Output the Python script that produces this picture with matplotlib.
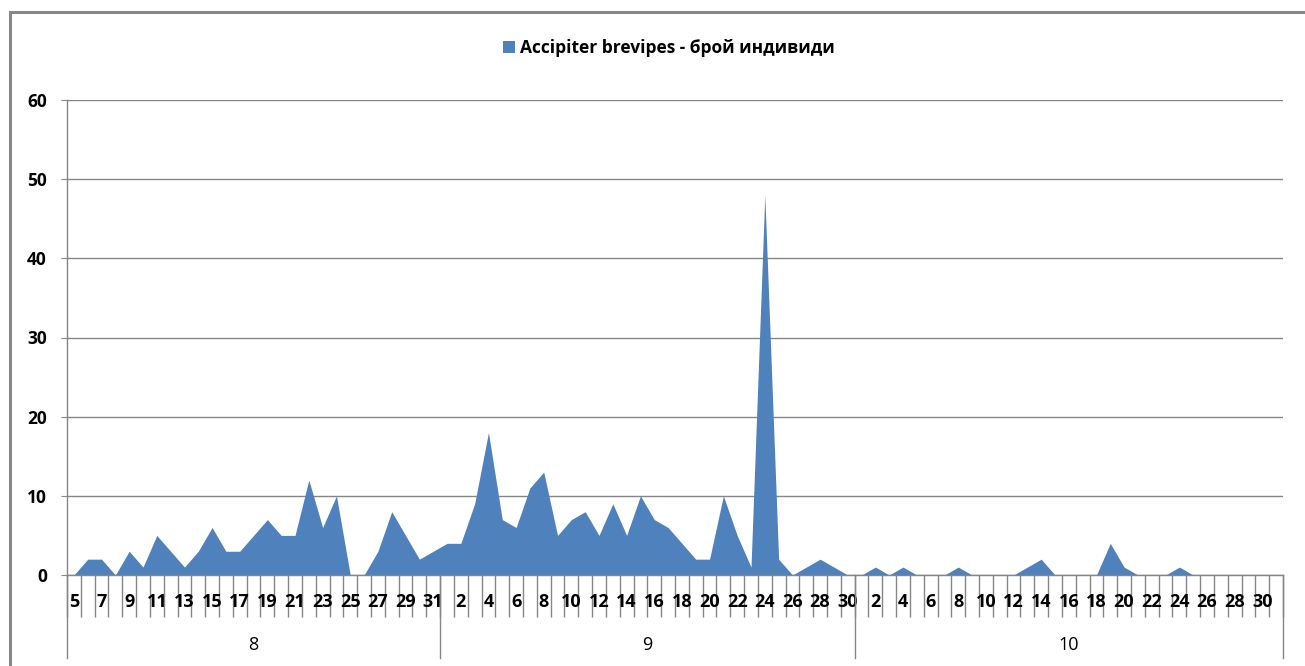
import numpy as np
import matplotlib
matplotlib.use('Agg')
import matplotlib.pyplot as plt
import matplotlib.transforms as mtransforms
from matplotlib.lines import Line2D
from matplotlib.patches import Rectangle

plt.rcParams['font.family'] = ['Open Sans', 'DejaVu Sans']

# data: daily counts, Aug 5 - Oct 31
months = ['8', '9', '10']
days_aug = list(range(5, 32))
days_sep = list(range(1, 31))
days_oct = list(range(1, 32))
counts_aug = [0, 2, 2, 0, 3, 1, 5, 3, 1, 3, 6, 3, 3, 5, 7, 5, 5, 12, 6, 10, 0, 0, 3, 8, 5, 2, 3]
counts_sep = [4, 4, 9, 18, 7, 6, 11, 13, 5, 7, 8, 5, 9, 5, 10, 7, 6, 4, 2, 2, 10, 5, 1, 48, 2, 0, 1, 2, 1, 0]
counts_oct = [0, 1, 0, 1, 0, 0, 0, 1, 0, 0, 0, 0, 1, 2, 0, 0, 0, 0, 4, 1, 0, 0, 0, 1, 0, 0, 0, 0, 0, 0, 0]
series_name = 'Accipiter brevipes - брой индивиди'

days = days_aug + days_sep + days_oct
counts = counts_aug + counts_sep + counts_oct
month_sizes = [len(days_aug), len(days_sep), len(days_oct)]
n = len(days)
x = np.arange(n)

W, H = 1305, 666
fig = plt.figure(figsize=(W / 100, H / 100), dpi=100)
ax = fig.add_axes([67 / W, 1 - 575 / H, (1283 - 67) / W, (575 - 100) / H])

grey = '#868686'
blue = '#4F81BD'

ax.fill_between(x, 0, counts, color=blue, linewidth=0, label=series_name, zorder=2)

ax.set_xlim(-0.5, n - 0.5)
ax.set_ylim(0, 60)
ax.set_yticks(range(0, 61, 10))
ax.grid(axis='y', color=grey, lw=1, zorder=0)
ax.set_axisbelow(True)

for s in ['top', 'right']:
    ax.spines[s].set_visible(False)
for s in ['left', 'bottom']:
    ax.spines[s].set_color(grey)
    ax.spines[s].set_linewidth(1)
ax.spines['bottom'].set_zorder(3)

ax.tick_params(axis='y', length=4.5, color=grey, pad=10, labelsize=12.5)
for lab in ax.get_yticklabels():
    lab.set_fontweight('bold')

# category boundaries as major ticks, day labels as minor ticks
ax.set_xticks(np.arange(n + 1) - 0.5)
ax.set_xticklabels([])
ax.tick_params(axis='x', which='major', length=30, color=grey, width=1)
lab_idx = x[::2]
ax.set_xticks(lab_idx, minor=True)
ax.set_xticklabels([str(days[i]) for i in lab_idx], minor=True,
                   fontsize=13, fontweight='bold')
ax.tick_params(axis='x', which='minor', length=0, pad=13)

# month separators and labels
trans = mtransforms.blended_transform_factory(ax.transData, ax.transAxes)
bounds = np.concatenate([[0], np.cumsum(month_sizes)]) - 0.5
for b in bounds:
    ax.add_line(Line2D([b, b], [0, -83 / 475], transform=trans, color=grey,
                       lw=1, clip_on=False))
for m, a, b in zip(months, bounds[:-1], bounds[1:]):
    ax.text((a + b) / 2, -70 / 475, m, transform=trans, ha='center',
            va='center', fontsize=13)

leg = ax.legend(loc='center', bbox_to_anchor=(669 / W, 1 - 48 / H),
                bbox_transform=fig.transFigure, frameon=False,
                handlelength=0.7, handleheight=0.7, handletextpad=0.3,
                prop={'size': 12.5, 'weight': 'bold'})

# chart area border
fig.patches.append(Rectangle((9.5 / W, -0.1), 1.2, 1.1 - 12 / H,
                             transform=fig.transFigure, fill=False,
                             edgecolor='#888888', lw=2.2))

fig.savefig('out.png', dpi=100)
